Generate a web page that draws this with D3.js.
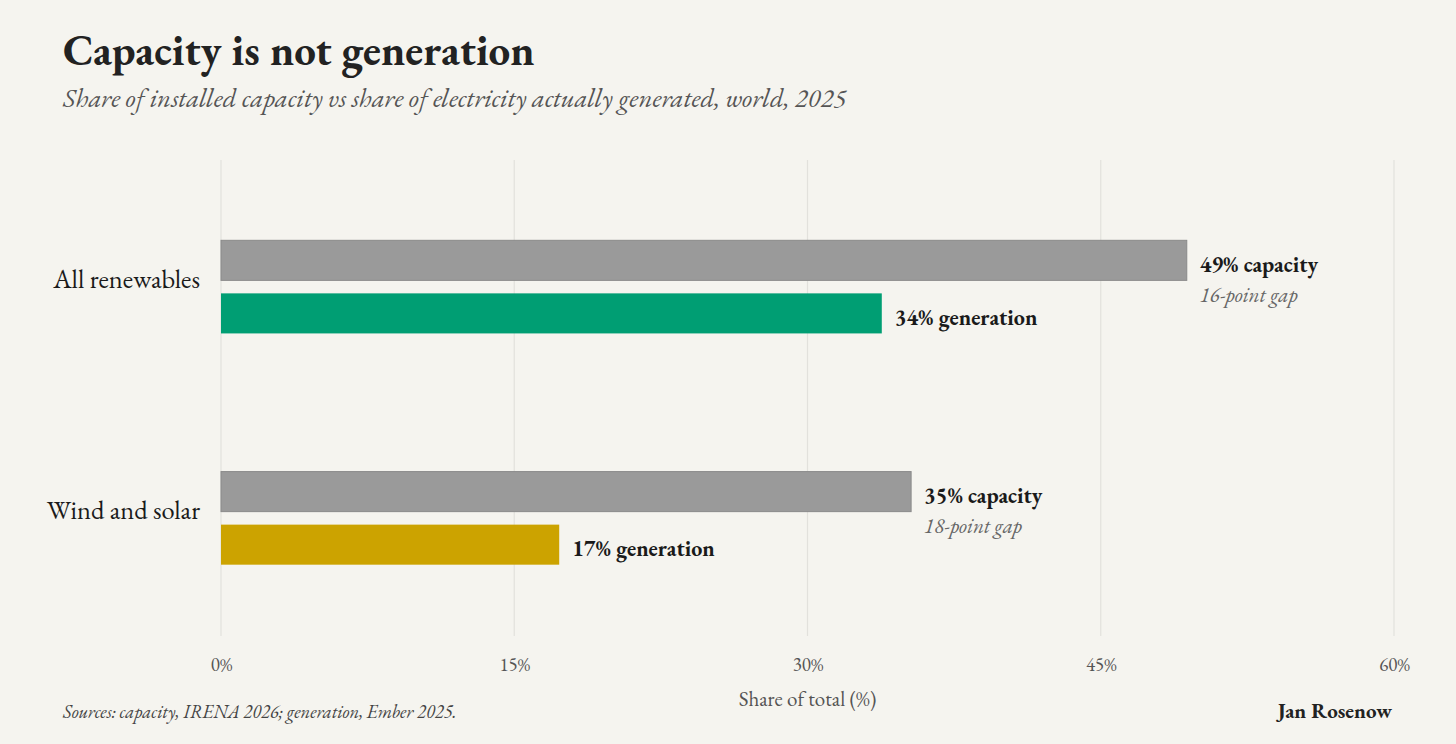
<!DOCTYPE html>
<html><head><meta charset="utf-8">
<script src="https://cdn.jsdelivr.net/npm/d3@7"></script>
<style>
html,body{margin:0;padding:0;background:#f5f4ef;}
svg{display:block;font-family:"EB Garamond","Liberation Serif","DejaVu Serif",serif;}
</style></head>
<body>
<svg id="chart" width="1456" height="744"></svg>
<script>
const categories = ["All renewables", "Wind and solar"];
const capacity = [49.4, 35.3];
const generation = [33.8, 17.3];
const capacityLabels = ["49% capacity", "35% capacity"];
const generationLabels = ["34% generation", "17% generation"];
const gapLabels = ["16-point gap", "18-point gap"];
const ticks = [0, 15, 30, 45, 60];
const genColors = ["#009e73", "#cca300"];

const FONT = '"EB Garamond","Liberation Serif","DejaVu Serif",serif';
const svg = d3.select("#chart");
svg.append("rect").attr("width",1456).attr("height",744).attr("fill","#f5f4ef");

const x = d3.scaleLinear().domain([0,60]).range([221,1394]);
const y = d3.scaleBand().domain(categories).range([164,641]).paddingInner(0.5974).paddingOuter(0.33);
const sub = d3.scaleBand().domain(["capacity","generation"]).range([0,y.bandwidth()]).paddingInner(0.245);

// grid
svg.append("g").selectAll("line").data(ticks).join("line")
  .attr("x1",d=>x(d)).attr("x2",d=>x(d)).attr("y1",160).attr("y2",636)
  .attr("stroke","#e2e1dc").attr("stroke-width",1.2);

// axis
const axis = d3.axisBottom(x).tickValues(ticks).tickFormat(d=>d+"%").tickSize(0).tickPadding(0);
const ag = svg.append("g").attr("transform","translate(0,671)").call(axis)
  .attr("font-family",FONT).attr("font-size",19);
ag.select(".domain").remove();
ag.selectAll("text").attr("fill","#555").attr("dy",0).attr("y",0);

svg.append("text").attr("x",x(30)).attr("y",706).attr("text-anchor","middle")
  .attr("font-size",21).attr("fill","#555").text("Share of total (%)");

const rows = categories.map((c,i)=>({c,i,cap:capacity[i],gen:generation[i]}));
const g = svg.append("g").selectAll("g").data(rows).join("g")
  .attr("transform",d=>`translate(0,${y(d.c)})`);

g.append("rect").attr("x",x(0)).attr("y",sub("capacity"))
  .attr("width",d=>x(d.cap)-x(0)).attr("height",sub.bandwidth())
  .attr("fill","#9a9a9a").attr("stroke","#8a8a8a").attr("stroke-width",1);
g.append("rect").attr("x",x(0)).attr("y",sub("generation"))
  .attr("width",d=>x(d.gen)-x(0)).attr("height",sub.bandwidth())
  .attr("fill",d=>genColors[d.i]);

g.append("text").attr("x",x(0)-21).attr("y",y.bandwidth()/2-8.5).attr("dy","0.35em")
  .attr("text-anchor","end").attr("font-size",26.5).attr("fill","#1a1a1a").text(d=>d.c);

g.append("text").attr("x",d=>x(d.cap)+13).attr("y",sub("capacity")+sub.bandwidth()/2+3.5).attr("dy","0.35em")
  .attr("font-size",22).attr("font-weight","bold").attr("fill","#1a1a1a").text(d=>capacityLabels[d.i]);
g.append("text").attr("x",d=>x(d.cap)+13).attr("y",sub("capacity")+sub.bandwidth()/2+34).attr("dy","0.35em")
  .attr("font-size",21).attr("font-style","italic").attr("fill","#666").text(d=>gapLabels[d.i]);
g.append("text").attr("x",d=>x(d.gen)+13).attr("y",sub("generation")+sub.bandwidth()/2+3.5).attr("dy","0.35em")
  .attr("font-size",22).attr("font-weight","bold").attr("fill","#1a1a1a").text(d=>generationLabels[d.i]);

// titles
svg.append("text").attr("x",63).attr("y",65).attr("font-size",43).attr("font-weight","bold")
  .attr("fill","#222").text("Capacity is not generation");
svg.append("text").attr("x",63).attr("y",107).attr("font-size",26.7).attr("font-style","italic")
  .attr("fill","#555").text("Share of installed capacity vs share of electricity actually generated, world, 2025");
svg.append("text").attr("x",63).attr("y",718).attr("font-size",18.5).attr("font-style","italic")
  .attr("fill","#444").text("Sources: capacity, IRENA 2026; generation, Ember 2025.");
svg.append("text").attr("x",1392).attr("y",718).attr("font-size",21).attr("font-weight","bold")
  .attr("text-anchor","end").attr("fill","#222").text("Jan Rosenow");
</script>
</body></html>
